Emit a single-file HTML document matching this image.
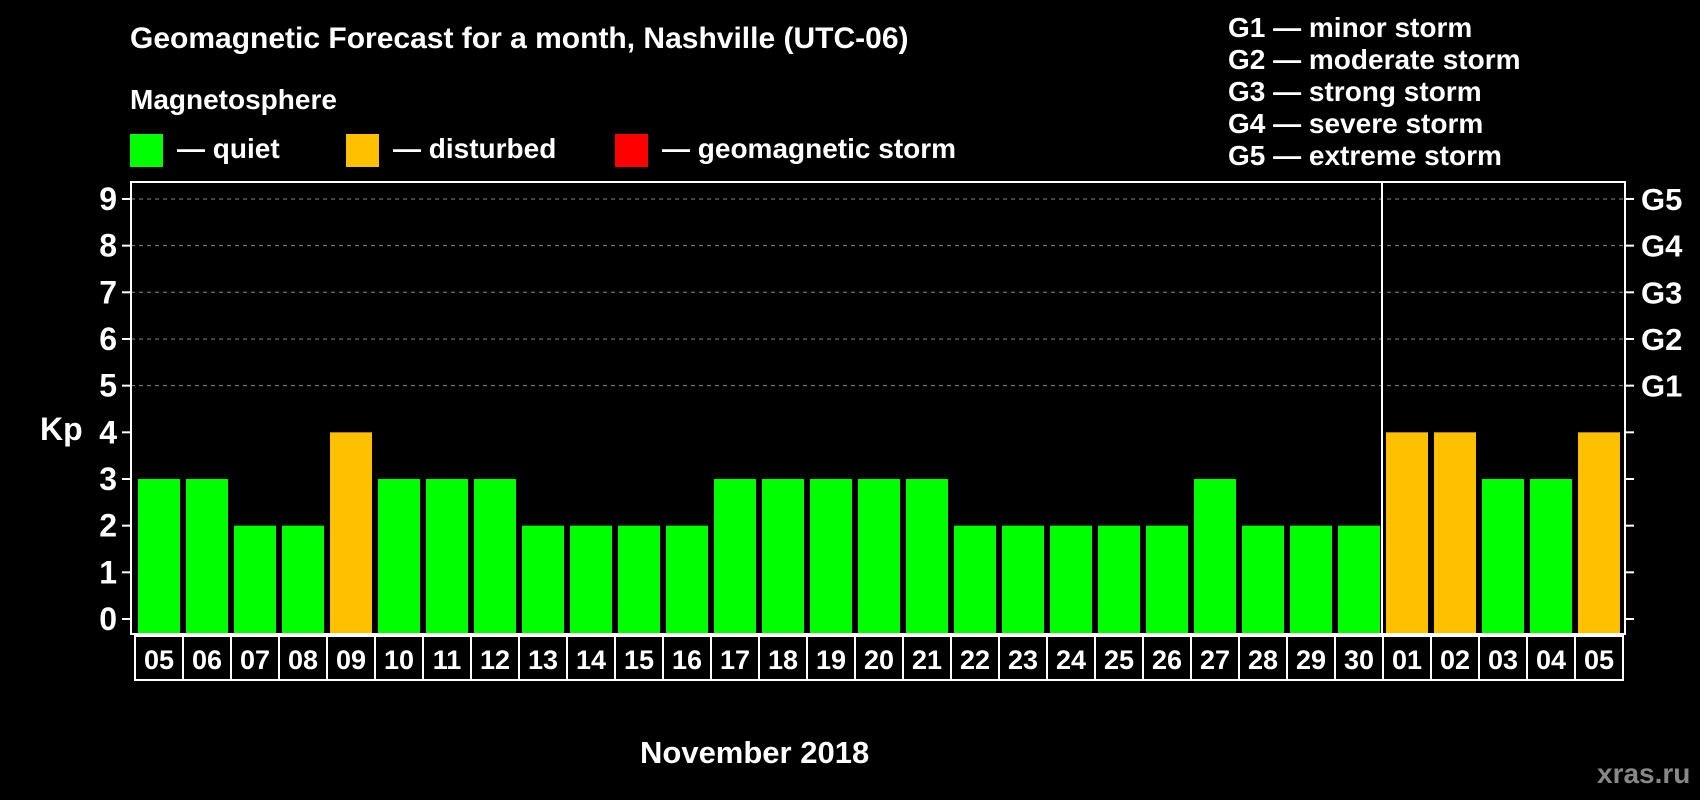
<!DOCTYPE html>
<html><head><meta charset="utf-8"><style>
body{margin:0;background:#000;width:1700px;height:800px;overflow:hidden;font-family:"Liberation Sans",Arial,sans-serif;font-weight:bold;color:#fff}
.t{position:absolute;white-space:nowrap}
svg text{font-family:"Liberation Sans",Arial,sans-serif;font-weight:bold}
</style></head><body>
<div class="t" style="left:130px;top:22px;font-size:30px">Geomagnetic Forecast for a month, Nashville (UTC-06)</div>
<div class="t" style="left:130px;top:84px;font-size:28px">Magnetosphere</div>
<div class="t" style="left:130px;top:133px;font-size:28px"><span style="display:inline-block;width:33px;height:33px;background:#00ff00;vertical-align:middle;margin-right:14px"></span>— quiet</div>
<div class="t" style="left:346px;top:133px;font-size:28px"><span style="display:inline-block;width:33px;height:33px;background:#ffc000;vertical-align:middle;margin-right:14px"></span>— disturbed</div>
<div class="t" style="left:615px;top:133px;font-size:28px"><span style="display:inline-block;width:33px;height:33px;background:#ff0000;vertical-align:middle;margin-right:14px"></span>— geomagnetic storm</div>
<div class="t" style="left:1228px;top:12px;font-size:28px;line-height:32px">G1 — minor storm<br>G2 — moderate storm<br>G3 — strong storm<br>G4 — severe storm<br>G5 — extreme storm</div>
<div class="t" style="left:640px;top:735px;font-size:31px">November 2018</div>
<div class="t" style="left:1597px;top:758px;font-size:28px;color:#888">xras.ru</div>
<svg id="c" width="1700" height="800" style="position:absolute;left:0;top:0"></svg>
<script>
const days=["05","06","07","08","09","10","11","12","13","14","15","16","17","18","19","20","21","22","23","24","25","26","27","28","29","30","01","02","03","04","05"];
const kp=[3,3,2,2,4,3,3,3,2,2,2,2,3,3,3,3,3,2,2,2,2,2,3,2,2,2,4,4,3,3,4];
const yTicks=[0,1,2,3,4,5,6,7,8,9];
const gLabels=["G1","G2","G3","G4","G5"];
const NS="http://www.w3.org/2000/svg",svg=document.getElementById('c');
const L=131,R=1625,T=182,B=634,x0=135,bw=48;
const y=v=>619-v*46.67;
const xb=i=>x0+i*bw;
function el(t,a,txt){const e=document.createElementNS(NS,t);for(const k in a)e.setAttribute(k,a[k]);if(txt!=null)e.textContent=txt;svg.appendChild(e);return e;}
yTicks.forEach(v=>{
 if(v>=5){const g=el('line',{x1:L,x2:R,y1:y(v),y2:y(v),stroke:'#888','stroke-dasharray':'4,4','stroke-width':1});
 
 }
 el('line',{x1:122,x2:L,y1:y(v),y2:y(v),stroke:'#fff','stroke-width':2});
 el('line',{x1:R,x2:1634,y1:y(v),y2:y(v),stroke:'#fff','stroke-width':2});
 const t=el('text',{x:117,y:y(v)+11,'text-anchor':'end','font-size':32,fill:'#fff'},v);
 
 
});
gLabels.forEach((g,i)=>{const t=el('text',{x:1641,y:y(5+i)+11,'font-size':31,fill:'#fff'},g);
 
 });
const k=el('text',{x:40,y:440,'font-size':32,fill:'#fff'},'Kp');


kp.forEach((v,i)=>{
 const r=el('rect',{x:xb(i)+3,y:y(v),width:42,height:B-y(v)-1,fill:v>=5?'#ff0000':v>=4?'#ffc000':'#00ff00'});
 
 
 el('rect',{x:xb(i),y:636,width:bw,height:44,fill:'none',stroke:'#fff','stroke-width':2});
 const t=el('text',{x:xb(i)+bw/2,y:669,'text-anchor':'middle','font-size':27,fill:'#fff'},days[i]);
 
 
});
const f=el('rect',{x:L,y:T,width:R-L,height:B-T,fill:'none',stroke:'#fff','stroke-width':2});


const sx=xb(26)-1;
const d=el('line',{x1:sx,x2:sx,y1:T,y2:B,stroke:'#fff','stroke-width':2});


</script>
</body></html>
